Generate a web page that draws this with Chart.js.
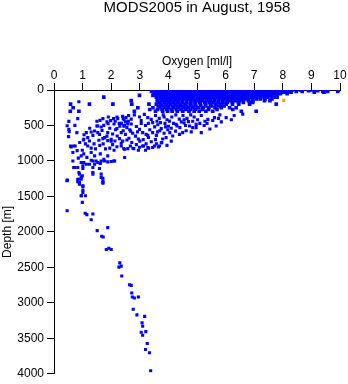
<!DOCTYPE html>
<html lang="en">
<head>
<meta charset="UTF-8">
<title>MODS2005 in August, 1958</title>
<script src="https://cdn.jsdelivr.net/npm/chart.js"></script>
<style>
  body { margin: 0; background: #fff; }
  #wrap { width: 348px; height: 384px; }
</style>
</head>
<body>
<div id="wrap"><canvas id="oxyChart" width="348" height="384"></canvas></div>
<script>
// depth levels (m) for the crowded upper layer, and the oxygen values (ml/l) read at each
const surfaceDepths = [0, 10, 20, 30, 50, 75, 100, 125, 150, 175, 200, 225, 250, 275, 300];
const surfaceOxygen = [
  [3.52,3.66,3.80,3.93,4.05,4.19,4.31,4.44,4.58,4.70,4.83,4.97,5.09,5.22,5.36,5.48,5.61,5.75,5.87,6.00,6.14,6.26,6.39,6.53,6.65,6.78,6.92,7.04,7.17,7.31,7.43,7.56,7.70,7.82,7.95,8.09,8.21,8.33,8.61,9.01,9.12,9.47,9.98],
  [3.60,3.73,3.87,3.99,4.12,4.25,4.38,4.51,4.64,4.77,4.90,5.03,5.16,5.29,5.42,5.55,5.68,5.81,5.94,6.07,6.20,6.33,6.46,6.59,6.72,6.85,6.98,7.11,7.24,7.37,7.50,7.63,7.76,7.89,8.02,8.15,8.90,9.22],
  [3.41,3.57,3.70,3.84,3.96,4.09,4.22,4.35,4.48,4.61,4.74,4.87,5.00,5.13,5.26,5.39,5.52,5.65,5.78,5.91,6.04,6.17,6.30,6.43,6.56,6.69,6.82,6.95,7.08,7.21,7.34,7.47,7.60,7.73,7.86,7.99,8.12,8.20,8.47,8.68,9.40,9.57,9.92],
  [3.63,3.77,3.90,4.03,4.16,4.29,4.42,4.55,4.68,4.81,4.94,5.07,5.20,5.33,5.46,5.59,5.72,5.85,5.98,6.11,6.24,6.37,6.50,6.63,6.76,6.89,7.02,7.15,7.28,7.41,7.54,7.67,7.80,7.93,8.04,8.29,9.10,9.44],
  [3.50,3.64,3.78,3.91,4.04,4.17,4.30,4.43,4.56,4.69,4.82,4.95,5.08,5.21,5.34,5.47,5.60,5.73,5.86,5.99,6.12,6.25,6.38,6.51,6.64,6.77,6.90,7.03,7.16,7.29,7.42,7.55,7.68,7.81,7.92,8.15],
  [2.99,3.46,3.59,3.72,3.85,3.98,4.11,4.24,4.37,4.50,4.63,4.76,4.89,5.02,5.15,5.28,5.41,5.54,5.67,5.80,5.93,6.06,6.19,6.32,6.45,6.58,6.71,6.84,6.97,7.10,7.23,7.36,7.49,7.62,7.78],
  [1.74,3.58,3.71,3.84,3.97,4.10,4.23,4.36,4.49,4.62,4.75,4.88,5.01,5.14,5.27,5.40,5.53,5.66,5.79,5.92,6.05,6.18,6.31,6.44,6.57,6.70,6.83,6.96,7.09,7.22,7.35,7.48,7.61,7.74,7.80],
  [3.72,3.88,4.01,4.15,4.28,4.41,4.55,4.68,4.81,4.95,5.08,5.21,5.35,5.48,5.61,5.75,5.88,6.01,6.15,6.28,6.41,6.55,6.68,6.81,6.95,7.08,7.21,7.38,7.62],
  [2.70,3.61,3.79,3.93,4.06,4.22,4.35,4.49,4.63,4.78,4.92,5.05,5.19,5.34,5.47,5.62,5.76,5.89,6.05,6.18,6.34,6.49,6.62,6.80,6.95,7.36,7.55],
  [3.69,3.86,4.02,4.17,4.33,4.48,4.64,4.79,4.95,5.10,5.27,5.43,5.58,5.74,5.91,6.06,6.24,6.45,6.62,6.84,6.95],
  [0.58,1.24,2.06,2.72,3.32,3.58,3.74,3.92,4.08,4.25,4.41,4.58,4.76,4.93,5.12,5.30,5.47,5.66,5.85,6.02,6.24,6.46,6.84,7.77],
  [3.64,3.81,3.97,4.14,4.30,4.47,4.63,4.80,4.96,5.13,5.30,5.52,5.75,5.95],
  [0.67,2.93,3.46,3.70,3.85,4.01,4.18,4.34,4.52,4.69,4.86,5.04,5.22,5.41,5.63,5.85,6.14,6.37],
  [3.35,3.62,3.78,3.95,4.11,4.28,4.44,4.61,4.77,4.95,5.18,5.40,5.70,6.25],
  [0.57,0.87,2.81,3.55,3.80,3.97,4.13,4.31,4.50,4.72,4.90,5.08,5.31,5.55,6.55,7.07]
];

const midProfile = [
  [0.87,166],[0.83,404],[0.52,442],[1.71,404],[1.61,428],[1.98,432],[2.08,404],[2.23,404],[2.40,372],[2.52,390],
  [2.61,360],[2.81,350],[2.99,380],[3.16,344],[3.28,390],[3.40,414],[3.55,360],[3.68,400],[3.82,350],[3.95,420],
  [4.04,438],[4.12,380],[4.26,350],[4.38,410],[4.51,360],[4.65,400],[4.78,350],[4.90,380],[5.02,420],[5.15,360],
  [5.38,414],[5.61,390],[5.80,350],[6.02,390],[5.28,440],[4.70,445],[3.60,440],[2.60,440],[2.45,420],[2.14,440],
  [1.85,450],[1.50,440],[2.42,400],[2.50,450],[2.58,480],[2.44,510],[2.36,470],
  [3.05,430],[3.30,470],[3.72,460],[4.18,470],[4.60,500],[5.35,470],[5.55,430],[5.85,450],[6.20,420],[4.45,450],
  [4.85,440],[3.90,520],[4.10,540],[4.30,505],[2.30,510],[2.65,560],[2.10,480],[3.85,380],[4.55,420],[5.75,400],
  [6.30,360],[6.60,340],[2.20,380],[1.90,380],[2.70,410],
  [0.46,503],[0.73,499],[1.50,508],[1.74,498],[1.89,474],[1.65,522],[1.53,508],[2.28,470],[2.47,500],
  [2.55,530],[2.70,480],[2.88,515],[3.05,470],[3.20,500],[3.45,460],[3.52,520],[3.63,490],[3.75,545],[3.88,470],
  [4.00,510],[4.27,484],[4.40,530],[4.55,465],[4.74,508],[4.85,531],[4.97,484],[4.97,531],[5.10,470],[5.25,500],
  [5.67,508],[5.45,550],[2.99,555],[2.20,545],[1.95,540],[0.52,555],
  [2.15,560],[2.42,575],[2.75,610],[2.92,590],[3.35,560],[3.62,590],[3.98,560],[4.25,580],[4.05,600],[3.28,640],
  [2.95,690],[3.12,700],[3.55,700],[3.80,690],[2.40,720],[2.72,740],[2.88,770],[3.22,760],[3.58,760],[3.95,780],
  [2.20,800],[2.35,790],[1.80,830],[2.10,850],[2.95,850],[3.20,850],[1.30,820],[1.72,760],[1.85,650],[2.05,620],
  [1.68,570],[1.25,540],[1.05,630],
  [0.53,587],[0.80,601],[1.13,601],[1.30,592],[1.42,578],[1.53,601],[1.59,625],[1.88,601],[1.77,671],[1.36,639],
  [1.18,671],[1.04,695],[2.21,648],[2.00,695],[2.35,600],[2.50,625],[2.68,580],[2.85,650],[3.10,601],[3.22,625],
  [3.45,600],[3.58,640],[3.70,575],[3.85,610],[3.92,671],[4.15,648],[4.39,625],[4.50,601],[4.62,575],[5.15,601],
  [2.62,680],[3.30,670],[0.51,657],[4.80,590],
  [0.58,789],[0.74,789],[0.60,803],[0.69,789],[0.81,854],[0.99,849],[1.18,789],[1.24,718],[1.03,705],[1.57,709],
  [1.71,685],[1.88,713],[2.00,723],[2.13,718],[2.29,685],[2.55,705],[2.67,789],[2.58,826],[2.44,826],[2.79,826],
  [2.99,807],[3.13,789],[3.31,821],[3.51,789],[3.65,803],[3.77,741],[3.10,789],[3.28,811],[3.45,811],[3.69,789],
  [3.75,741],[2.47,835],[2.76,821],[1.40,760],[1.10,760],[0.90,740],[1.60,780],[2.05,770],[2.35,750],[3.00,720],
  [3.40,730],[4.10,720],[1.95,820],[1.45,830],
  [2.47,952],[0.95,929],[1.04,900],[1.30,880],[1.42,929],[1.88,929],[0.66,880],[0.85,960],[1.15,950],[1.62,900],
  [2.09,1000],[2.12,1000],
  [0.66,1000],[0.95,1022],[1.01,1070],[0.72,1092],[0.83,1092],[0.69,1092],[1.36,1000],[1.53,1022],[1.65,1000],[1.42,1046],
  [1.74,976],[1.62,1036],[1.47,1000],[1.30,990],[1.24,1046],[1.36,1092],[1.59,1106],[1.13,1046],[1.04,1022],[1.77,1000],
  [2.00,1008],[1.88,1013],[1.01,1106],[0.87,1163],[0.89,1186],[0.99,1210],[1.36,1163],[1.65,1186],[1.36,1186],[1.65,1233],
  [1.71,1243],[1.71,1303],[0.95,1233],[0.83,1257],[0.87,1257],[0.89,1303],[0.95,1257],[0.47,1271],[0.45,1280],[0.83,1294],
  [0.89,1327],[1.01,1350],[1.01,1359],[1.71,1280],[1.71,1313],[1.01,1411],[1.01,1444],[0.95,1491],[1.10,1491],[0.96,1491],
  [0.99,1584]
];

// [oxygen, depth] for the deep tail
const deepProfile = [
  [0.46,1701],[1.09,1738],[1.15,1757],[1.36,1748],[1.30,1828],[1.51,1982],[1.88,1940],[1.67,2061],[1.72,2071],[1.83,2249],
  [1.92,2230],[2.00,2249],[2.30,2436],[2.27,2496],[2.35,2482],[2.37,2622],[2.64,2745],[2.70,2754],[2.72,2861],[2.74,2918],
  [2.81,2932],[2.95,2918],[2.77,3091],[2.90,3170],[3.17,3190],[3.08,3283],[3.10,3330],[3.05,3414],[3.21,3405],[3.10,3457],
  [3.26,3573],[3.20,3657],[3.34,3704],[3.38,3957]
];

// the single point drawn in orange
const flaggedProfile = [[8.03,147]];

const oxygenTicks = [0, 1, 2, 3, 4, 5, 6, 7, 8, 9, 10];
const depthTicks = [0, 500, 1000, 1500, 2000, 2500, 3000, 3500, 4000];

const toXY = pairs => pairs.map(p => ({ x: p[0], y: p[1] }));

const upperPoints = [];
surfaceDepths.forEach((d, i) => {
  surfaceOxygen[i].forEach(o => upperPoints.push({ x: o, y: d }));
});

const blue = '#0000ff';
const orange = '#ffa500';
const fontFamily = '"Liberation Sans", Arial, Helvetica, sans-serif';

Chart.defaults.font.family = fontFamily;
Chart.defaults.color = '#000';

const pointStyle = {
  pointStyle: 'rect',
  pointRadius: 2.2,
  pointHoverRadius: 2.2,
  borderWidth: 0,
  showLine: false
};

new Chart(document.getElementById('oxyChart'), {
  type: 'scatter',
  data: {
    datasets: [
      { data: upperPoints, backgroundColor: blue, ...pointStyle, pointRadius: 2.6 },
      { data: toXY(midProfile), backgroundColor: blue, ...pointStyle },
      { data: toXY(deepProfile), backgroundColor: blue, ...pointStyle },
      { data: toXY(flaggedProfile), backgroundColor: orange, ...pointStyle }
    ]
  },
  options: {
    responsive: false,
    animation: false,
    layout: { padding: { left: 0, right: 8, top: 0, bottom: 9 } },
    plugins: {
      legend: { display: false },
      tooltip: { enabled: false },
      title: {
        display: true,
        text: 'MODS2005 in August, 1958',
        fullSize: false,
        color: '#000',
        font: { size: 15, weight: 'normal', lineHeight: 1.0 },
        padding: { top: 0, bottom: 0 }
      }
    },
    scales: {
      x: {
        type: 'linear',
        position: 'top',
        min: 0,
        max: 10,
        afterBuildTicks: s => { s.ticks = oxygenTicks.map(v => ({ value: v })); },
        afterFit: s => { s.height = 75; },
        ticks: { font: { size: 12 }, color: '#000', padding: 0, maxRotation: 0, callback: v => String(v) },
        grid: { drawOnChartArea: false, drawTicks: true, tickLength: 7, color: '#000' },
        border: { display: true, color: '#000', width: 1 },
        title: {
          display: true,
          text: 'Oxygen [ml/l]',
          color: '#000',
          font: { size: 12 },
          padding: { top: 39, bottom: 0 }
        }
      },
      y: {
        type: 'linear',
        position: 'left',
        reverse: true,
        min: 0,
        max: 4000,
        afterBuildTicks: s => { s.ticks = depthTicks.map(v => ({ value: v })); },
        afterFit: s => { s.width = 54; },
        ticks: { font: { size: 12 }, color: '#000', padding: 3, callback: v => String(v) },
        grid: { drawOnChartArea: false, drawTicks: true, tickLength: 7, color: '#000' },
        border: { display: true, color: '#000', width: 1 },
        title: {
          display: true,
          text: 'Depth [m]',
          color: '#000',
          font: { size: 12 },
          padding: { top: 0, bottom: 0 }
        }
      }
    }
  }
});
</script>
</body>
</html>
